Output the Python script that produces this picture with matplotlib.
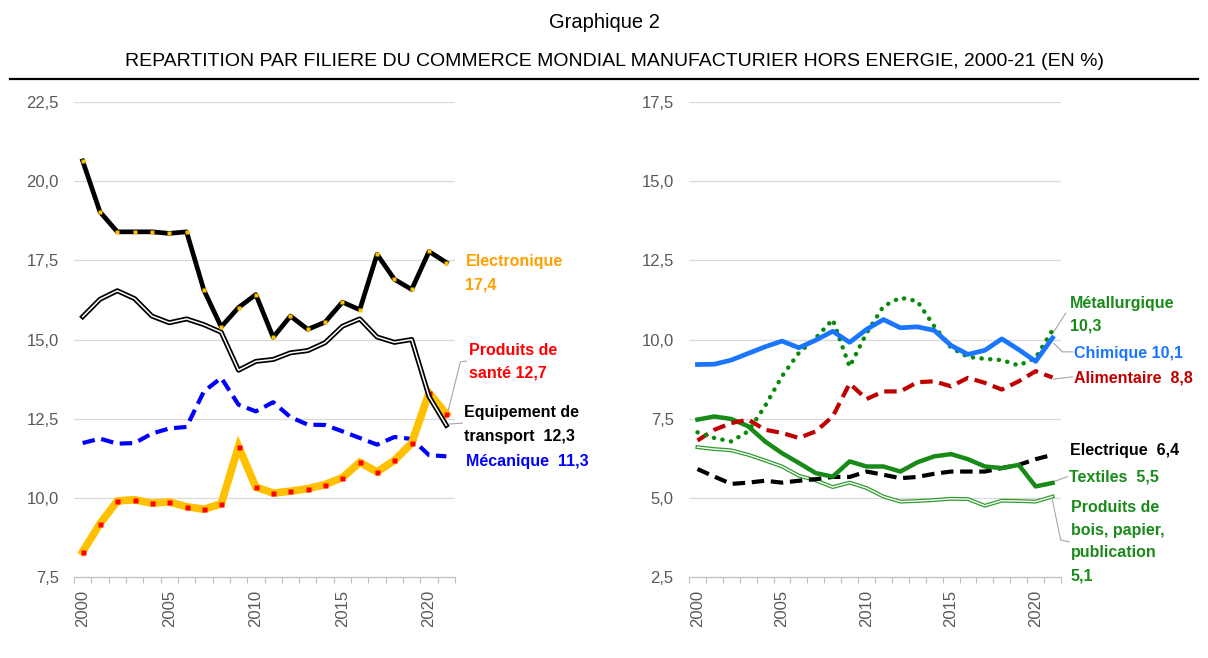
import numpy as np
import matplotlib
matplotlib.use('Agg')
import matplotlib.pyplot as plt
from matplotlib.lines import Line2D

plt.rcParams['font.family'] = ['Liberation Sans', 'DejaVu Sans']

years = list(range(2000, 2022))

# left panel
electronique = [20.64, 19.03, 18.40, 18.40, 18.40, 18.35, 18.40, 16.56, 15.40, 16.01, 16.42,
                15.07, 15.74, 15.32, 15.55, 16.18, 15.94, 17.69, 16.90, 16.58, 17.78, 17.43]
transport = [15.72, 16.27, 16.54, 16.29, 15.74, 15.53, 15.65, 15.47, 15.23, 14.03, 14.31,
             14.37, 14.58, 14.65, 14.90, 15.42, 15.65, 15.08, 14.91, 15.00, 13.20, 12.29]
sante = [8.30, 9.18, 9.90, 9.94, 9.83, 9.87, 9.72, 9.64, 9.81, 11.62, 10.34,
         10.15, 10.21, 10.29, 10.42, 10.64, 11.12, 10.82, 11.18, 11.73, 13.31, 12.65]
mecanique = [11.73, 11.87, 11.71, 11.73, 12.03, 12.19, 12.24, 13.36, 13.79, 12.94, 12.73,
             13.02, 12.55, 12.31, 12.30, 12.10, 11.89, 11.68, 11.92, 11.86, 11.35, 11.31]

# right panel
chimique = [9.21, 9.22, 9.35, 9.56, 9.77, 9.95, 9.74, 9.98, 10.26, 9.91, 10.32,
            10.63, 10.37, 10.40, 10.29, 9.81, 9.53, 9.66, 10.02, 9.68, 9.31, 10.05]
metallurgique = [7.07, 6.89, 6.78, 7.10, 7.90, 8.84, 9.58, 10.05, 10.63, 9.14, 10.20,
                 11.05, 11.32, 11.21, 10.42, 9.74, 9.45, 9.39, 9.35, 9.18, 9.42, 10.30]
alimentaire = [6.81, 7.15, 7.36, 7.47, 7.15, 7.05, 6.89, 7.10, 7.57, 8.61, 8.12,
               8.36, 8.36, 8.65, 8.68, 8.52, 8.79, 8.63, 8.42, 8.68, 9.00, 8.80]
textiles = [7.47, 7.57, 7.49, 7.26, 6.78, 6.41, 6.10, 5.78, 5.67, 6.15, 5.99,
            5.99, 5.83, 6.12, 6.31, 6.38, 6.22, 5.99, 5.94, 6.04, 5.36, 5.47]
electrique = [5.91, 5.67, 5.44, 5.48, 5.54, 5.48, 5.54, 5.59, 5.66, 5.66, 5.83,
              5.73, 5.62, 5.66, 5.76, 5.83, 5.83, 5.83, 5.94, 6.04, 6.22, 6.36]
bois = [6.60, 6.54, 6.50, 6.36, 6.18, 5.99, 5.70, 5.55, 5.34, 5.48, 5.31,
        5.04, 4.88, 4.90, 4.93, 4.97, 4.96, 4.75, 4.91, 4.90, 4.88, 5.04]

left_yticks = [7.5, 10.0, 12.5, 15.0, 17.5, 20.0, 22.5]
right_yticks = [2.5, 5.0, 7.5, 10.0, 12.5, 15.0, 17.5]
year_labels = [2000, 2005, 2010, 2015, 2020]

GRAY = '#595959'
GRID = '#D9D9D9'
LEADER = '#A6A6A6'

fig = plt.figure(figsize=(12.08, 6.58), dpi=100)
W, H = 1208, 658

ax1 = fig.add_axes([74 / W, 1 - 577 / H, 381 / W, 475 / H])
ax2 = fig.add_axes([689 / W, 1 - 577 / H, 372 / W, 475 / H])


def style_axis(ax, yticks):
    ax.set_xlim(1999.5, 2021.5)
    ax.set_ylim(yticks[0], yticks[-1])
    ax.set_yticks(yticks)
    ax.set_yticklabels([('%.1f' % t).replace('.', ',') for t in yticks])
    for t in yticks[1:]:
        ax.axhline(t, color=GRID, lw=0.9, zorder=0)
    ax.set_xticks(year_labels)
    ax.set_xticklabels([str(y) for y in year_labels], rotation=90)
    ax.set_xticks(np.arange(1999.5, 2022, 1), minor=True)
    ax.tick_params(axis='x', which='major', length=0, pad=9, labelsize=12, labelcolor=GRAY)
    ax.tick_params(axis='x', which='minor', length=4, width=0.8, color='#BFBFBF', direction='out')
    ax.tick_params(axis='y', length=0, pad=11, labelsize=12, labelcolor=GRAY)
    for s in ['top', 'right', 'left']:
        ax.spines[s].set_visible(False)
    ax.spines['bottom'].set_color('#BFBFBF')
    ax.spines['bottom'].set_linewidth(0.9)


style_axis(ax1, left_yticks)
style_axis(ax2, right_yticks)

# ---- left panel lines
ax1.plot(years, mecanique, color='#0000FF', lw=3, dashes=(3, 1.6), zorder=3)
ax1.plot(years, sante, color='#FFC000', lw=5.5, solid_joinstyle='miter', zorder=4,
         marker='s', ms=3.6, mfc='#FF0000', mec='none')
ax1.plot(years, transport, color='black', lw=3.6, zorder=5)
ax1.plot(years, transport, color='white', lw=1.1, zorder=5)
ax1.plot(years, electronique, color='black', lw=3.4, zorder=6,
         marker='s', ms=3.2, mfc='#FFC000', mec='none')

# ---- right panel lines
ax2.plot(years, bois, color='#2E9B2E', lw=2.8, zorder=3)
ax2.plot(years, bois, color='white', lw=1.0, zorder=3)
ax2.plot(years, electrique, color='black', lw=3, dashes=(3, 1.6), zorder=4)
ax2.plot(years, textiles, color='#178A17', lw=3.2, zorder=4)
ax2.plot(years, alimentaire, color='#C00000', lw=3, dashes=(3, 1.6), zorder=4)
ax2.plot(years, metallurgique, color='#0A8A0A', lw=3.2, dashes=(0.05, 1.9),
         dash_capstyle='round', zorder=5)
ax2.plot(years, chimique, color='#1A75FF', lw=3.4, zorder=6)


def label(ax, x, ys, lines, color):
    for y, s in zip(ys, lines):
        ax.text(x, y, s, color=color, fontsize=11.5, fontweight='bold',
                ha='left', va='center', clip_on=False)


def leader(ax, xs, ys):
    ax.add_line(Line2D(xs, ys, color=LEADER, lw=0.8, clip_on=False, zorder=2))


label(ax1, 2022.1, [17.45, 16.72], ['Electronique', '17,4'], '#FF9F00')
label(ax1, 2022.33, [14.64, 13.94], ['Produits de', 'santé 12,7'], '#FF0000')
label(ax1, 2022.04, [12.68, 11.95], ['Equipement de', 'transport  12,3'], 'black')
label(ax1, 2022.16, [11.16], ['Mécanique  11,3'], '#0000FF')
leader(ax1, [2022.16, 2021.81, 2021.06], [14.32, 14.29, 12.65])
leader(ax1, [2021.18, 2021.93], [12.33, 12.36])

label(ax2, 2022.01, [11.15, 10.43], ['Métallurgique', '10,3'], '#1A8A1A')
label(ax2, 2022.25, [9.57], ['Chimique 10,1'], '#1A75FF')
label(ax2, 2022.25, [8.78], ['Alimentaire  8,8'], '#C00000')
label(ax2, 2022.01, [6.51], ['Electrique  6,4'], 'black')
label(ax2, 2021.95, [5.66], ['Textiles  5,5'], '#1A8A1A')
label(ax2, 2022.07, [4.68, 3.98, 3.26, 2.54],
      ['Produits de', 'bois, papier,', 'publication', '5,1'], '#1A8A1A')
leader(ax2, [2021.78, 2021.02], [10.83, 10.20])
leader(ax2, [2021.08, 2021.58, 2022.17], [9.88, 9.61, 9.61])
leader(ax2, [2021.08, 2022.17], [8.75, 8.82])
leader(ax2, [2021.08, 2021.88], [5.51, 5.67])
leader(ax2, [2020.99, 2021.48, 2021.98], [4.93, 3.67, 3.61])

fig.text(0.5, 1 - 22 / H, 'Graphique 2', ha='center', va='center', fontsize=14.5)
fig.text(614.5 / W, 1 - 62 / H,
         'REPARTITION PAR FILIERE DU COMMERCE MONDIAL MANUFACTURIER HORS ENERGIE, 2000-21 (EN %)',
         ha='center', va='center', fontsize=14)
fig.add_artist(Line2D([10 / W, 1198 / W], [1 - 79 / H, 1 - 79 / H],
                      transform=fig.transFigure, color='black', lw=1.6))

fig.savefig('out.png', dpi=100)
